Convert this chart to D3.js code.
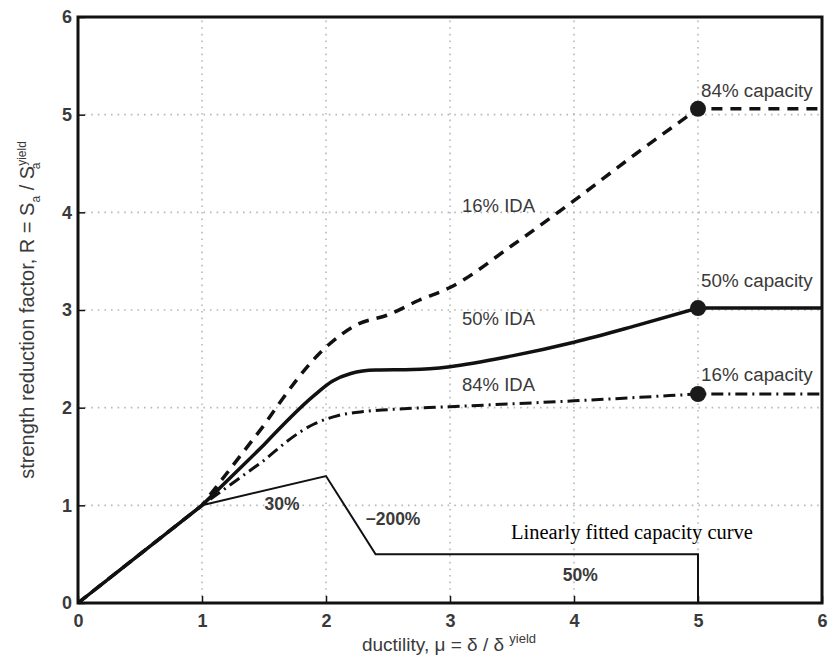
<!DOCTYPE html>
<html>
<head>
<meta charset="utf-8">
<script src="https://cdn.jsdelivr.net/npm/d3@7"></script>
<style>
  html, body { margin: 0; padding: 0; background: #fff; }
</style>
</head>
<body>
<svg id="chart" width="828" height="658"></svg>
<script>
// IDA percentile curves: ductility (mu) vs strength reduction factor (R)
const ida16 = [[0,0],[1,1],[1.5,1.82],[2,2.62],[2.25,2.85],[2.5,2.95],[2.75,3.1],[3,3.23],[3.5,3.66],[4,4.12],[4.5,4.6],[5,5.06],[6,5.06]];
const ida50 = [[0,0],[1,1],[1.5,1.62],[1.9,2.12],[2.05,2.27],[2.2,2.35],[2.4,2.385],[2.7,2.39],[3,2.42],[3.5,2.53],[4,2.67],[4.5,2.84],[5,3.02],[6,3.02]];
const ida84 = [[0,0],[1,1],[1.5,1.46],[1.9,1.83],[2.1,1.92],[2.3,1.96],[2.5,1.98],[3,2.01],[4,2.07],[5,2.14],[6,2.14]];
// Linearly fitted capacity curve (backbone)
const capacity = [[1,1],[2,1.3],[2.4,0.5],[5,0.5],[5,0]];
// Capacity points at mu = 5
const capPoints = [[5,5.06,"84% capacity"],[5,3.02,"50% capacity"],[5,2.14,"16% capacity"]];
const xTicks = [0,1,2,3,4,5,6];
const yTicks = [0,1,2,3,4,5,6];

const svg = d3.select("#chart");
const x = d3.scaleLinear().domain([0,6]).range([78,822]);
const y = d3.scaleLinear().domain([0,6]).range([603,17]);
const txt = "#3a3a3a";
const sans = "'Liberation Sans', Arial, sans-serif";

// dotted grid
const grid = svg.append("g").attr("stroke","#b8b8b8").attr("stroke-width",1.6)
  .attr("stroke-dasharray","1.6,5");
grid.selectAll(".gx").data(xTicks.slice(1,-1)).join("line")
  .attr("x1",d=>x(d)).attr("x2",d=>x(d)).attr("y1",y(0)).attr("y2",y(6));
grid.selectAll(".gy").data(yTicks.slice(1,-1)).join("line")
  .attr("y1",d=>y(d)).attr("y2",d=>y(d)).attr("x1",x(0)).attr("x2",x(6));

// axes with inward ticks
const xAxis = svg.append("g").attr("transform",`translate(0,${y(0)})`)
  .call(d3.axisBottom(x).tickValues(xTicks).tickSizeInner(-7).tickSizeOuter(0).tickPadding(11).tickFormat(d3.format("d")));
const yAxis = svg.append("g").attr("transform",`translate(${x(0)},0)`)
  .call(d3.axisLeft(y).tickValues(yTicks).tickSizeInner(-7).tickSizeOuter(0).tickPadding(6).tickFormat(d3.format("d")));
[xAxis,yAxis].forEach(a=>{
  a.select(".domain").remove();
  a.selectAll(".tick line").attr("stroke","#111").attr("stroke-width",1.5);
  a.selectAll(".tick text").attr("fill",txt).attr("font-size",18).attr("font-weight","bold")
    .attr("font-family",sans);
});
// box frame
svg.append("rect").attr("x",x(0)).attr("y",y(6)).attr("width",x(6)-x(0)).attr("height",y(0)-y(6))
  .attr("fill","none").attr("stroke","#111").attr("stroke-width",3);

// straight rise to the elastic limit, smooth middle section, straight plateau after mu=5
const smooth = d3.line().x(d=>x(d[0])).y(d=>y(d[1])).curve(d3.curveMonotoneX);
const lineLin = d3.line().x(d=>x(d[0])).y(d=>y(d[1]));
function idaPath(pts) {
  const n = pts.length;
  const mid = smooth(pts.slice(2, n-1));
  return lineLin(pts.slice(0,3)) + "L" + mid.slice(1) + "L" + x(pts[n-1][0]) + "," + y(pts[n-1][1]);
}

svg.append("path").datum(capacity).attr("d",lineLin).attr("fill","none")
  .attr("stroke","#111").attr("stroke-width",2).attr("stroke-linejoin","miter");
svg.append("path").datum(ida84).attr("d",idaPath).attr("fill","none")
  .attr("stroke","#111").attr("stroke-width",3).attr("stroke-dasharray","12,5,2,5");
svg.append("path").datum(ida16).attr("d",idaPath).attr("fill","none")
  .attr("stroke","#111").attr("stroke-width",3.5).attr("stroke-dasharray","11,8");
svg.append("path").datum(ida50).attr("d",idaPath).attr("fill","none")
  .attr("stroke","#111").attr("stroke-width",3.5);

svg.selectAll(".cap").data(capPoints).join("circle")
  .attr("cx",d=>x(d[0])).attr("cy",d=>y(d[1])).attr("r",8).attr("fill","#1a1a1a");
// vertical gap between each capacity point and its label
const capLabelGap = [12, 21, 13];
svg.selectAll(".capl").data(capPoints).join("text")
  .attr("x",d=>x(d[0])+3).attr("y",(d,i)=>y(d[1])-capLabelGap[i]).attr("font-size",18.8).attr("fill",txt)
  .attr("font-family",sans).text(d=>d[2]);

// curve labels
const labels = [["16% IDA",3.0,4.0],["50% IDA",3.0,2.85],["84% IDA",3.0,2.17]];
svg.selectAll(".il").data(labels).join("text")
  .attr("x",d=>x(d[1])+12).attr("y",d=>y(d[2])).attr("font-family",sans)
  .attr("font-size",18.5).attr("fill",txt).text(d=>d[0]);

// slope labels on the backbone
const slopes = [["30%",1.645,0.95],["\u2212200%",2.54,0.8],["50%",4.05,0.23]];
svg.selectAll(".sl").data(slopes).join("text")
  .attr("x",d=>x(d[1])).attr("y",d=>y(d[2])).attr("text-anchor","middle").attr("font-family",sans)
  .attr("font-size",17.5).attr("font-weight","bold").attr("fill",txt).text(d=>d[0]);

svg.append("text").attr("x",632).attr("y",539).attr("text-anchor","middle")
  .attr("font-family","'Liberation Serif', 'Times New Roman', serif").attr("font-size",20.5)
  .attr("fill","#000").text("Linearly fitted capacity curve");

// axis titles
const xt = svg.append("text").attr("x",449).attr("y",651).attr("text-anchor","middle")
  .attr("font-family",sans).attr("font-size",19).attr("fill",txt);
xt.append("tspan").text("ductility, \u03bc = \u03b4 / \u03b4 ");
xt.append("tspan").attr("dy",-8).attr("font-size",13).text("yield");

const yt = svg.append("text").attr("transform","translate(34,310) rotate(-90)")
  .attr("text-anchor","middle").attr("font-family",sans).attr("font-size",20).attr("fill",txt);
yt.append("tspan").text("strength reduction factor, R = S");
yt.append("tspan").attr("dy",6).attr("font-size",12).text("a");
yt.append("tspan").attr("dy",-6).text(" / S");
yt.append("tspan").attr("dy",-8).attr("font-size",12).text("yield");
yt.append("tspan").attr("dx",-28).attr("dy",14).attr("font-size",12).text("a");
</script>
</body>
</html>
